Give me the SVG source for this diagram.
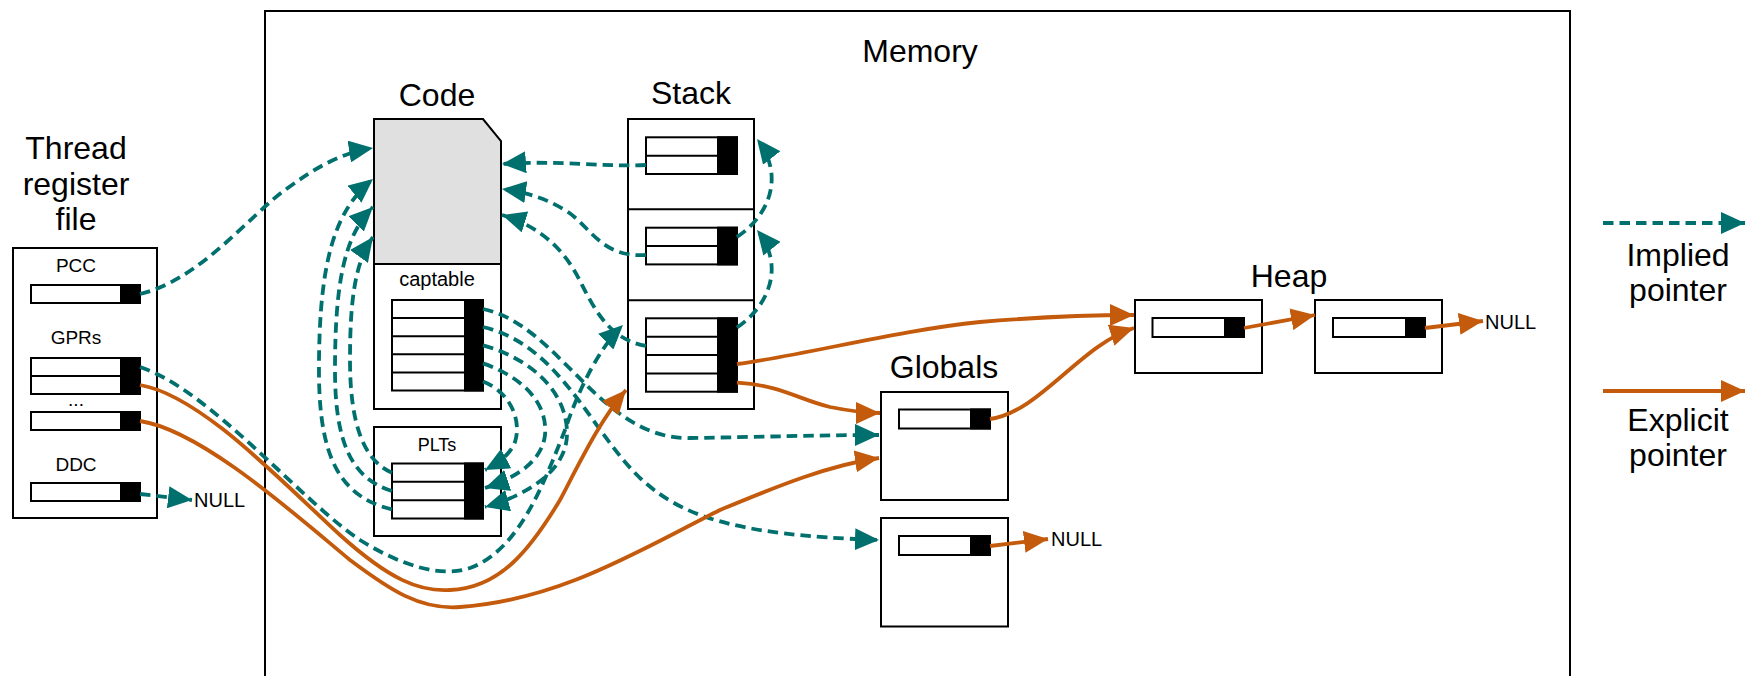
<svg xmlns="http://www.w3.org/2000/svg" width="1745" height="676" viewBox="0 0 1745 676">
<style>
.box{fill:#fff;stroke:#000;stroke-width:2}
.blk{fill:#000;stroke:#000;stroke-width:2}
.ln{stroke:#000;stroke-width:2}
.t{font-family:"Liberation Sans",Arial,sans-serif;fill:#000;text-anchor:middle}
.title{font-size:32px}
.small{font-size:19px}
.nul{font-size:20px;text-anchor:start}
.imp{fill:none;stroke:#00706e;stroke-width:3.8;stroke-dasharray:10.5 6}
.exp{fill:none;stroke:#c45a0c;stroke-width:3.8}
</style>
<defs>
<marker id="at" markerUnits="userSpaceOnUse" markerWidth="25" markerHeight="22" refX="24" refY="11" orient="auto" viewBox="0 0 25 22">
<path d="M0,0 L24,11 L0,22 Z" fill="#00706e"/>
</marker>
<marker id="ao" markerUnits="userSpaceOnUse" markerWidth="25" markerHeight="22" refX="24" refY="11" orient="auto" viewBox="0 0 25 22">
<path d="M0,0 L24,11 L0,22 Z" fill="#c45a0c"/>
</marker>
</defs>
<rect width="1745" height="676" fill="#fff"/>

<g id="memory">
<rect class="box" x="265" y="11" width="1305" height="720"/>
<text class="t title" x="920" y="62">Memory</text>
</g>

<g id="registers">
<text class="t title" x="76" y="159">Thread</text>
<text class="t title" x="76" y="194.5">register</text>
<text class="t title" x="76" y="230">file</text>
<rect class="box" x="13" y="248" width="144" height="270"/>
<text class="t small" x="76" y="272">PCC</text>
<rect class="box" x="31" y="285" width="109" height="18"/><rect class="blk" x="121" y="285" width="19" height="18"/>
<text class="t small" x="76" y="344">GPRs</text>
<rect class="box" x="31" y="358" width="109" height="36"/><line class="ln" x1="31" y1="376" x2="121" y2="376"/><rect class="blk" x="121" y="358" width="19" height="36"/>
<text class="t small" x="76" y="406">...</text>
<rect class="box" x="31" y="412" width="109" height="18"/><rect class="blk" x="121" y="412" width="19" height="18"/>
<text class="t small" x="76" y="470.5">DDC</text>
<rect class="box" x="31" y="483" width="109" height="18"/><rect class="blk" x="121" y="483" width="19" height="18"/>
<text class="t nul" x="194" y="507">NULL</text>
</g>

<g id="code">
<text class="t title" x="437" y="106">Code</text>
<rect class="box" x="374" y="264" width="127" height="145"/>
<path d="M374,119 L483,119 L501,141 L501,264 L374,264 Z" fill="#e0e0e0" stroke="#000" stroke-width="2"/>
<text class="t" x="437" y="286" font-size="20">captable</text>
<rect class="box" x="392" y="300" width="91" height="90.5"/>
<line class="ln" x1="392" y1="318.1" x2="465" y2="318.1"/>
<line class="ln" x1="392" y1="336.2" x2="465" y2="336.2"/>
<line class="ln" x1="392" y1="354.3" x2="465" y2="354.3"/>
<line class="ln" x1="392" y1="372.4" x2="465" y2="372.4"/>
<rect class="blk" x="465" y="300" width="18" height="90.5"/>
</g>

<g id="plts">
<rect class="box" x="374" y="427" width="127" height="109"/>
<text class="t" x="437" y="450.5" font-size="18">PLTs</text>
<rect class="box" x="392" y="463.5" width="91" height="55"/>
<line class="ln" x1="392" y1="481.8" x2="465" y2="481.8"/>
<line class="ln" x1="392" y1="500.2" x2="465" y2="500.2"/>
<rect class="blk" x="465" y="463.5" width="18" height="55"/>
</g>

<g id="stack">
<text class="t title" x="691" y="104">Stack</text>
<rect class="box" x="628" y="119" width="126" height="290"/>
<line class="ln" x1="628" y1="209.3" x2="754" y2="209.3"/>
<line class="ln" x1="628" y1="300.3" x2="754" y2="300.3"/>
<rect class="box" x="646" y="137.3" width="91" height="36.7"/>
<line class="ln" x1="646" y1="155.7" x2="718" y2="155.7"/>
<rect class="blk" x="718" y="137.3" width="19" height="36.7"/>
<rect class="box" x="646" y="227.7" width="91" height="36.7"/>
<line class="ln" x1="646" y1="246" x2="718" y2="246"/>
<rect class="blk" x="718" y="227.7" width="19" height="36.7"/>
<rect class="box" x="646" y="318.3" width="91" height="73.4"/>
<line class="ln" x1="646" y1="336.7" x2="718" y2="336.7"/>
<line class="ln" x1="646" y1="355" x2="718" y2="355"/>
<line class="ln" x1="646" y1="373.4" x2="718" y2="373.4"/>
<rect class="blk" x="718" y="318.3" width="19" height="73.4"/>
</g>

<g id="globals">
<text class="t title" x="944" y="378">Globals</text>
<rect class="box" x="881" y="392" width="127" height="108"/>
<rect class="box" x="899" y="409.5" width="91" height="19"/><rect class="blk" x="971" y="409.5" width="19" height="19"/>
</g>

<g id="globals2">
<rect class="box" x="881" y="518" width="127" height="108.5"/>
<rect class="box" x="899" y="536" width="91" height="19"/><rect class="blk" x="971" y="536" width="19" height="19"/>
<text class="t nul" x="1051" y="546">NULL</text>
</g>

<g id="heap">
<text class="t title" x="1289" y="287">Heap</text>
<rect class="box" x="1135" y="300" width="127" height="73"/>
<rect class="box" x="1152.5" y="318" width="91.5" height="19"/><rect class="blk" x="1225" y="318" width="19" height="19"/>
</g>

<g id="heap2">
<rect class="box" x="1315" y="300" width="127" height="73"/>
<rect class="box" x="1333" y="318" width="92" height="19"/><rect class="blk" x="1406" y="318" width="19" height="19"/>
<text class="t nul" x="1485" y="329">NULL</text>
</g>

<g id="connectors">
<path class="imp" marker-end="url(#at)" d="M140,294 C200,280 250,215 285,190 C315,168 340,153 373,148"/>
<path class="imp" marker-end="url(#at)" d="M140,494 L192,500"/>
<path class="imp" marker-end="url(#at)" d="M140,367 C210,390 300,500 360,540 C400,565 440,578 470,568 C520,550 545,480 565,430 C575,400 595,352 623,325"/>
<path class="imp" marker-end="url(#at)" d="M483,309 C560,325 600,440 690,438 C760,437 820,435 879,435"/>
<path class="imp" marker-end="url(#at)" d="M483,327 C560,345 590,430 640,478 C680,515 730,535 879,540"/>
<path class="imp" marker-end="url(#at)" d="M483,381.5 C510,392 522,420 515,442 C510,455 498,463 485,470"/>
<path class="imp" marker-end="url(#at)" d="M483,363.4 C525,378 548,405 545,435 C542,462 515,478 485,488"/>
<path class="imp" marker-end="url(#at)" d="M483,345.3 C535,360 568,395 567,435 C566,472 525,496 485,507"/>
<path class="imp" marker-end="url(#at)" d="M392,509.3 C330,495 318,440 319,360 C320,260 335,210 373,179"/>
<path class="imp" marker-end="url(#at)" d="M392,491 C350,478 335,440 335,370 C335,280 345,235 373,207"/>
<path class="imp" marker-end="url(#at)" d="M392,472.7 C362,460 350,420 350,360 C350,300 355,262 373,237"/>
<path class="imp" marker-end="url(#at)" d="M646,165 C600,167 560,160 502,164"/>
<path class="imp" marker-end="url(#at)" d="M646,255 C600,258 590,225 565,210 C545,198 525,192 502,189"/>
<path class="imp" marker-end="url(#at)" d="M646,345.8 C610,340 595,310 582,285 C568,255 545,228 502,215"/>
<path class="imp" marker-end="url(#at)" d="M737,237 C770,215 785,175 757,139"/>
<path class="imp" marker-end="url(#at)" d="M737,327.5 C770,305 785,265 757,230"/>
<path class="exp" marker-end="url(#ao)" d="M140,385 C200,395 280,480 340,535 C390,580 420,592 450,590 C500,588 530,550 560,500 C580,462 600,420 626,390"/>
<path class="exp" marker-end="url(#ao)" d="M140,421 C200,430 290,510 350,560 C390,590 420,610 460,607 C560,600 640,550 720,510 C780,485 830,465 879,458"/>
<path class="exp" marker-end="url(#ao)" d="M737,364 C800,356 900,330 980,322 C1050,316 1100,315 1134,315"/>
<path class="exp" marker-end="url(#ao)" d="M737,382.6 C780,385 800,400 830,407 C850,411 865,413 880,413"/>
<path class="exp" marker-end="url(#ao)" d="M990,419 C1040,412 1080,345 1134,328"/>
<path class="exp" marker-end="url(#ao)" d="M1244,328 L1315,315"/>
<path class="exp" marker-end="url(#ao)" d="M1425,328 L1483,321"/>
<path class="exp" marker-end="url(#ao)" d="M990,546 L1048,539"/>
</g>

<g id="legend">
<path class="imp" marker-end="url(#at)" d="M1603,223 L1745,223"/>
<text class="t title" x="1678" y="266">Implied</text>
<text class="t title" x="1678" y="301">pointer</text>
<path class="exp" marker-end="url(#ao)" d="M1603,391 L1745,391"/>
<text class="t title" x="1678" y="431">Explicit</text>
<text class="t title" x="1678" y="466">pointer</text>
</g>
</svg>
